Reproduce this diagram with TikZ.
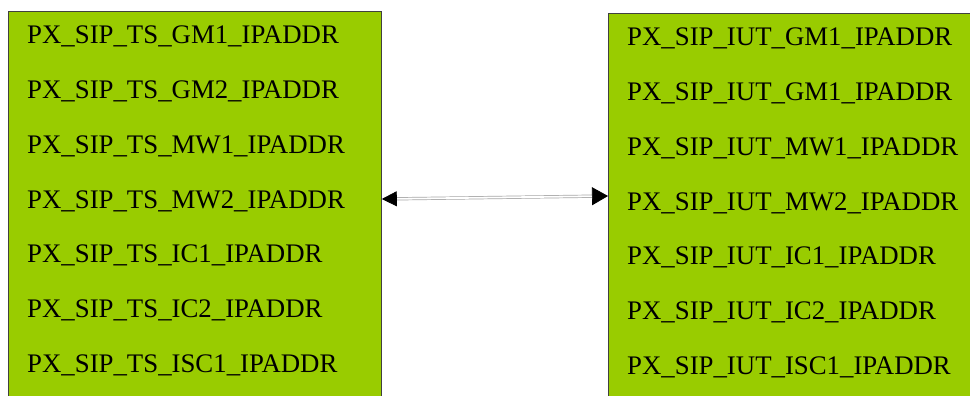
\documentclass[tikz,border=0pt]{standalone}
\usepackage{fontspec}
\setmainfont{Liberation Serif}
\usetikzlibrary{arrows.meta}

\definecolor{boxgreen}{HTML}{99CC00}

\begin{document}
\begin{tikzpicture}[x=1pt,y=-1pt,
  box/.style={draw=black!75,fill=boxgreen,line width=0.8pt,anchor=north west,inner sep=0pt},
  addr/.style={anchor=base west,inner sep=0pt,font=\fontsize{26.8}{30}\selectfont},
  link/.style={draw=gray!70,double,double distance=1.8pt,line width=0.7pt}]

\clip  (0,0)  rectangle  (970,396);

\node [box,minimum width=373pt,minimum height=400pt] (ts) at (8,11) {};
\node [box,minimum width=380pt,minimum height=400pt] (iut) at (608,13) {};

\node [addr] (ts1) at (27,44) {PX\_SIP\_TS\_GM1\_IPADDR};
\node [addr] (ts2) at (27,98.7) {PX\_SIP\_TS\_GM2\_IPADDR};
\node [addr] (ts3) at (27,153.4) {PX\_SIP\_TS\_MW1\_IPADDR};
\node [addr] (ts4) at (27,208.1) {PX\_SIP\_TS\_MW2\_IPADDR};
\node [addr] (ts5) at (27,262.8) {PX\_SIP\_TS\_IC1\_IPADDR};
\node [addr] (ts6) at (27,317.5) {PX\_SIP\_TS\_IC2\_IPADDR};
\node [addr] (ts7) at (27,372.2) {PX\_SIP\_TS\_ISC1\_IPADDR};

\node [addr] (iut1) at (627,46) {PX\_SIP\_IUT\_GM1\_IPADDR};
\node [addr] (iut2) at (627,100.7) {PX\_SIP\_IUT\_GM1\_IPADDR};
\node [addr] (iut3) at (627,155.4) {PX\_SIP\_IUT\_MW1\_IPADDR};
\node [addr] (iut4) at (627,210.1) {PX\_SIP\_IUT\_MW2\_IPADDR};
\node [addr] (iut5) at (627,264.8) {PX\_SIP\_IUT\_IC1\_IPADDR};
\node [addr] (iut6) at (627,319.5) {PX\_SIP\_IUT\_IC2\_IPADDR};
\node [addr] (iut7) at (627,374.2) {PX\_SIP\_IUT\_ISC1\_IPADDR};

\coordinate (tsport) at (ts.north east |- 0,199);
\coordinate (iutport) at (iut.north west |- 0,196);

\draw [link,{Triangle[length=15pt 0,width=15pt 0,color=black]}-{Triangle[length=16pt 0,width=18pt 0,color=black]}]
  (tsport)  --  (iutport);

\end{tikzpicture}
\end{document}
